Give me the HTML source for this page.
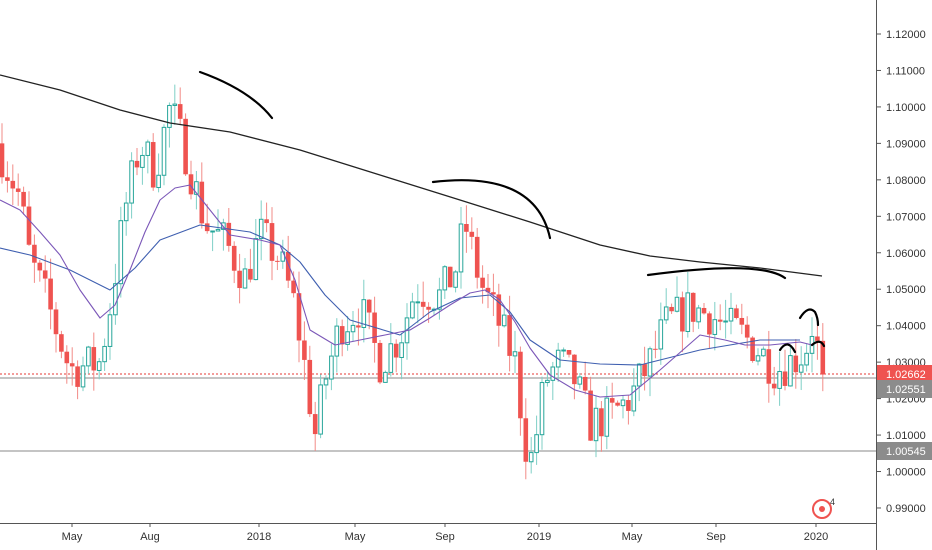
<!DOCTYPE html>
<html><head><meta charset="utf-8"><style>
body{margin:0;background:#fff;font-family:"Liberation Sans",sans-serif}
svg{display:block}
</style></head><body>
<svg id="s" width="932" height="550" xmlns="http://www.w3.org/2000/svg" font-family="Liberation Sans, sans-serif">
<rect width="932" height="550" fill="#fff"/>
<g id="c"></g>
</svg>
<script>
const S=document.getElementById('s'),G=document.getElementById('c');
const NS='http://www.w3.org/2000/svg';
function el(t,a,p){const e=document.createElementNS(NS,t);for(const k in a)e.setAttribute(k,a[k]);(p||G).appendChild(e);return e;}
const Y=p=>34+(1.12-p)*3646;
function interp(pts,x){for(let i=0;i<pts.length-1;i++){if(x>=pts[i][0]&&x<=pts[i+1][0]){const t=(x-pts[i][0])/(pts[i+1][0]-pts[i][0]);return pts[i][1]+t*(pts[i+1][1]-pts[i][1]);}}return pts[pts.length-1][1];}
const kp=[[0,1.088],[20,1.075],[30,1.058],[45,1.048],[70,1.028],[100,1.030],[110,1.045],[125,1.072],[140,1.090],[155,1.082],[170,1.100],[185,1.088],[205,1.068],[225,1.063],[245,1.053],[260,1.065],[280,1.058],[295,1.045],[305,1.028],[315,1.010],[325,1.025],[340,1.040],[360,1.045],[380,1.030],[400,1.037],[415,1.050],[440,1.048],[455,1.055],[465,1.068],[480,1.052],[500,1.040],[515,1.030],[525,1.008],[532,1.003],[545,1.025],[560,1.030],[575,1.025],[590,1.013],[610,1.015],[630,1.020],[650,1.030],[665,1.040],[690,1.045],[710,1.043],[725,1.040],[740,1.038],[760,1.033],[775,1.028],[790,1.030],[805,1.033],[812,1.040],[818,1.033],[824,1.0266]];
let seed=7;const rnd=()=>{seed=(seed*16807)%2147483647;return seed/2147483647;};
// grid lines / levels
el('line',{x1:0,x2:876,y1:378,y2:378,stroke:'#888','stroke-width':1});
el('line',{x1:0,x2:876,y1:451,y2:451,stroke:'#888','stroke-width':1});
el('line',{x1:0,x2:876,y1:374,y2:374,stroke:'#e53935','stroke-width':1,'stroke-dasharray':'2,2'});
let prev=1.090;
for(let x=2;x<=824;x+=5.4){
  let c=interp(kp,x)+(rnd()-0.5)*0.012;
  if(x>821)c=1.0266;
  const o=prev,up=c>=o;
  const h=Math.max(o,c)+rnd()*0.006,l=Math.min(o,c)-rnd()*0.006;
  const col=up?'#26a69a':'#ef5350';
  el('line',{x1:x,x2:x,y1:Y(h),y2:Y(l),stroke:up?'#7fcfc6':'#f28b87','stroke-width':1});
  const yt=Y(Math.max(o,c)),hh=Math.max(1,Y(Math.min(o,c))-yt);
  if(up)el('rect',{x:x-1.8,y:yt,width:3.6,height:hh,fill:'#fff',stroke:col,'stroke-width':1});
  else el('rect',{x:x-2.3,y:yt,width:4.6,height:hh,fill:col});
  prev=c;
}
function line(pts,col,w){el('path',{d:'M'+pts.map(p=>p.join(',')).join(' L'),fill:'none',stroke:col,'stroke-width':w||1,'stroke-linejoin':'round'});}
line([[0,75],[60,90],[120,110],[170,123],[230,132],[300,150],[380,175],[460,200],[530,222],[600,245],[650,256],[700,262],[760,268],[822,276]],'#222',1.3);
line([[0,248],[30,255],[70,270],[110,290],[135,268],[160,240],[200,225],[250,232],[280,245],[300,262],[325,295],[350,320],[400,335],[430,312],[460,298],[490,295],[510,312],[530,340],[560,360],[600,364],[640,365],[700,350],[760,340],[800,340]],'#3f5fb0',1.1);
line([[0,200],[20,210],[40,232],[60,255],[80,290],[100,318],[115,305],[130,270],[145,232],[160,200],[175,188],[190,185],[210,210],[230,235],[260,240],[280,245],[295,280],[310,330],[335,345],[360,340],[385,335],[410,330],[430,318],[450,305],[470,293],[485,290],[500,300],[515,322],[530,348],[550,375],[575,390],[600,397],[630,395],[660,370],[700,335],[725,340],[745,345],[770,345],[800,342],[812,345]],'#7b57b8',1.1);
// hand-drawn arcs
const arc=d=>el('path',{d:d,fill:'none',stroke:'#000','stroke-width':2.2,'stroke-linecap':'round'});
arc('M200,72 Q250,90 272,118');
arc('M433,182 Q535,170 550,238');
arc('M648,275 Q760,260 785,278');
arc('M800,318 Q808,305 815,312 Q818,318 818,325');
arc('M780,350 Q788,338 795,352');
arc('M812,345 Q820,338 824,346');
// axes
el('line',{x1:876.5,x2:876.5,y1:0,y2:550,stroke:'#555','stroke-width':1});
el('line',{x1:0,x2:876,y1:523.5,y2:523.5,stroke:'#555','stroke-width':1});
for(let i=0;i<=13;i++){const p=1.12-i*0.01,y=Y(p);
  el('line',{x1:876,x2:881,y1:y,y2:y,stroke:'#555'});
  const t=el('text',{x:886,y:y+4,'font-size':11,fill:'#333'});t.textContent=p.toFixed(5);}
[[374,'#ef5350','1.02662'],[389,'#8c8c8c','1.02551'],[451,'#8c8c8c','1.00545']].forEach(a=>{
  el('rect',{x:877,y:a[0]-9,width:55,height:18,fill:a[1]});
  const t=el('text',{x:886,y:a[0]+4,'font-size':11,fill:'#fff'});t.textContent=a[2];});
[[72,'May'],[150,'Aug'],[259,'2018'],[355,'May'],[445,'Sep'],[539,'2019'],[632,'May'],[716,'Sep'],[816,'2020']].forEach(a=>{
  el('line',{x1:a[0],x2:a[0],y1:523,y2:527,stroke:'#555'});
  const t=el('text',{x:a[0],y:540,'font-size':11,fill:'#333','text-anchor':'middle'});t.textContent=a[1];});
// event icon
el('circle',{cx:822,cy:509,r:9,fill:'none',stroke:'#ef5350','stroke-width':2});
el('circle',{cx:822,cy:509,r:3,fill:'#ef5350'});
const t4=el('text',{x:830,y:505,'font-size':9,fill:'#333'});t4.textContent='4';
</script>
</body></html>
